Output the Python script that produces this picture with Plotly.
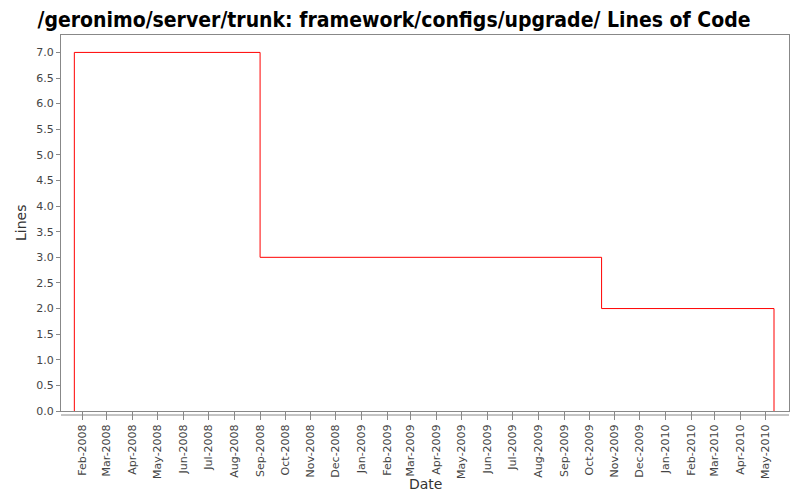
import plotly.graph_objects as go

dates = ["2008-01-22", "2008-01-22", "2008-09-01", "2009-10-16", "2010-05-11"]
lines = [0, 7, 3, 2, 0]

title = "/geronimo/server/trunk: framework/configs/upgrade/ Lines of Code"

# page has an 8px body margin; figure sized/margined to compensate
W, H = 792, 492
L, R, T, B = 53, 11, 27, 89
plot_h = H - T - B

fig = go.Figure()
fig.add_trace(go.Scatter(x=dates, y=lines, mode="lines", line=dict(color="#ff0000", width=1, shape="hv"),
                         showlegend=False, hoverinfo="skip"))

fig.update_layout(
    width=W, height=H,
    margin=dict(l=L, r=R, t=T, b=B, autoexpand=False),
    paper_bgcolor="white", plot_bgcolor="white",
    title=dict(text="<b>" + title + "</b>", x=386 / W, xanchor="center", xref="container",
               y=1 - 12 / H, yanchor="middle",
               font=dict(family="DejaVu Sans Condensed, DejaVu Sans", size=21, color="#000000")),
    font=dict(family="DejaVu Sans", size=11, color="#444444"),
)
fig.update_xaxes(
    type="date", range=["2008-01-06", "2010-05-29"], automargin=False,
    tick0="2008-02-01", dtick="M1", tickformat="%b-%Y", tickangle=-90,
    ticks="outside", ticklen=8, tickcolor="#888888",
    showgrid=False, zeroline=False,
    showline=True, linecolor="#888888", linewidth=1, mirror=True,
    tickfont=dict(size=11, color="#444444"),
)
fig.update_yaxes(
    range=[0, 7.34], tick0=0, dtick=0.5, tickformat=".1f", automargin=False,
    ticks="outside", ticklen=4, tickcolor="#888888",
    showgrid=False, zeroline=False,
    showline=True, linecolor="#888888", linewidth=1, mirror=True,
    tickfont=dict(size=11, color="#444444"),
)
fig.add_shape(type="line", xref="paper", yref="paper", x0=0, x1=1, y0=-4 / plot_h, y1=-4 / plot_h,
              line=dict(color="#888888", width=1))
fig.add_annotation(text="Date", xref="paper", yref="paper", x=0.5, y=-(484 - 411) / plot_h,
                   xanchor="center", yanchor="middle", showarrow=False,
                   font=dict(family="DejaVu Sans", size=14, color="#333333"))
fig.add_annotation(text="Lines", xref="paper", yref="paper", x=-(61 - 21) / (W - L - R), y=0.5,
                   xanchor="center", yanchor="middle", showarrow=False, textangle=-90,
                   font=dict(family="DejaVu Sans", size=14, color="#333333"))

fig.write_html("out.html")
